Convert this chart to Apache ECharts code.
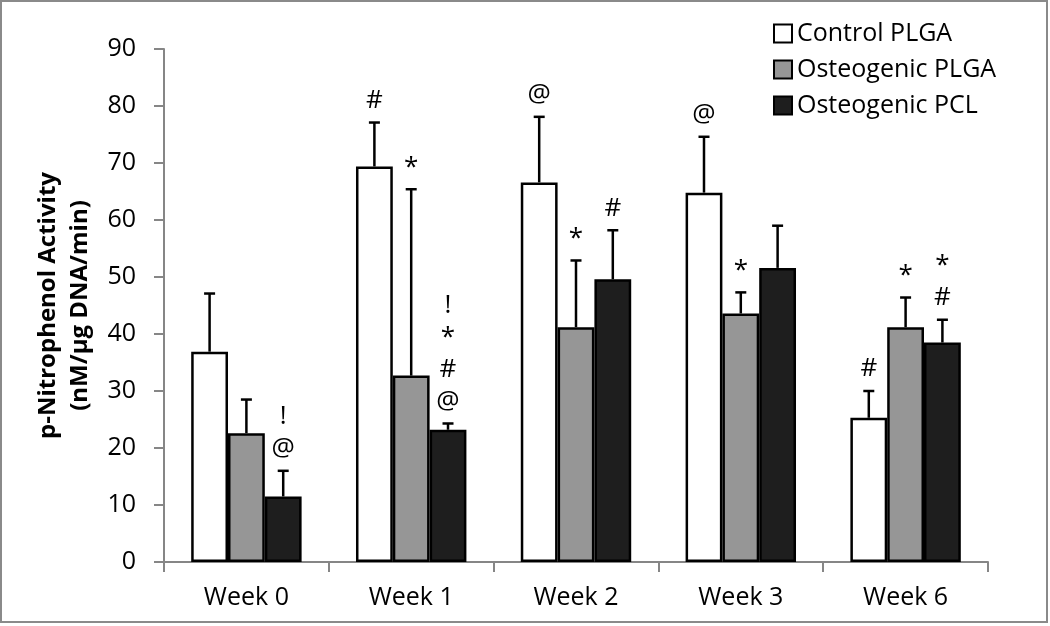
<!DOCTYPE html>
<html>
<head>
<meta charset="utf-8">
<script src="https://cdn.jsdelivr.net/npm/echarts@6/dist/echarts.min.js"></script>
<style>
  html, body { margin: 0; padding: 0; background: #fff; }
  #main { width: 1050px; height: 626px; }
</style>
</head>
<body>
<div id="main"></div>
<script>
(function () {

    var weeks = ['Week 0', 'Week 1', 'Week 2', 'Week 3', 'Week 6'];
    var seriesNames = ['Control PLGA', 'Osteogenic PLGA', 'Osteogenic PCL'];

    // mean values
    var controlPLGA = [36.9, 69.4, 66.6, 64.8, 25.3];
    var osteoPLGA   = [22.6, 32.7, 41.2, 43.6, 41.2];
    var osteoPCL    = [11.5, 23.2, 49.6, 51.6, 38.5];

    // top of each error bar
    var controlPLGAErr = [47.1, 77.1, 78.1, 74.6, 30.0];
    var osteoPLGAErr   = [28.5, 65.4, 52.9, 47.3, 46.4];
    var osteoPCLErr    = [16.0, 24.3, 58.2, 59.0, 42.5];

    // significance marks above the bars (stacked top to bottom)
    var controlPLGAMarks = ['', '#', '@', '@', '#'];
    var osteoPLGAMarks   = ['', '*', '*', '*', '*'];
    var osteoPCLMarks    = ['!\n@', '!\n*\n#\n@', '#', '', '*\n#'];

    var means = [controlPLGA, osteoPLGA, osteoPCL];
    var errs = [controlPLGAErr, osteoPLGAErr, osteoPCLErr];
    var marks = [controlPLGAMarks, osteoPLGAMarks, osteoPCLMarks];
    var fills = ['#ffffff', '#969696', '#1e1e1e'];

    var font = '"Open Sans", "DejaVu Sans", sans-serif';
    var catGap = 0.33;

    var series = [];
    seriesNames.forEach(function (name, i) {
        series.push({
            name: name,
            type: 'bar',
            barGap: '0%',
            barCategoryGap: '33%',
            data: means[i],
            itemStyle: { color: fills[i], borderColor: '#000', borderWidth: 2.5 }
        });
    });

    // error bars and marks, drawn through the axis scales
    seriesNames.forEach(function (name, i) {
        var data = means[i].map(function (v, k) {
            return [k, v, errs[i][k]];
        });
        series.push({
            type: 'custom',
            silent: true,
            z: 5,
            data: data,
            encode: { x: 0, y: [1, 2] },
            renderItem: function (params, api) {
                var band = api.size([1, 0])[0];
                var barW = band * (1 - catGap) / 3;
                var offset = (i - 1) * barW;
                var base = api.coord([api.value(0), api.value(1)]);
                var top = api.coord([api.value(0), api.value(2)]);
                var x = base[0] + offset;
                var cap = 5.5;
                var children = [
                    { type: 'line', shape: { x1: x, y1: base[1], x2: x, y2: top[1] },
                      style: { stroke: '#000', lineWidth: 2.5 } },
                    { type: 'line', shape: { x1: x - cap, y1: top[1], x2: x + cap, y2: top[1] },
                      style: { stroke: '#000', lineWidth: 2.5 } }
                ];
                var txt = marks[i][params.dataIndex];
                if (txt) {
                    children.push({
                        type: 'text',
                        style: {
                            x: x, y: top[1] - 6,
                            text: txt,
                            align: 'center',
                            verticalAlign: 'bottom',
                            font: '26px ' + font,
                            lineHeight: 32,
                            fill: '#000'
                        }
                    });
                }
                return { type: 'group', children: children };
            }
        });
    });

    var option = {
        backgroundColor: '#fff',
        animation: false,
        graphic: [{
            type: 'rect',
            shape: { x: 1, y: 1, width: 1046, height: 621 },
            style: { fill: 'none', stroke: '#8a8a8a', lineWidth: 2 }
        }],
        legend: {
            orient: 'vertical',
            left: 768,
            top: 16,
            itemWidth: 18,
            itemHeight: 18,
            itemGap: 11,
            icon: 'rect',
            data: seriesNames,
            textStyle: { fontFamily: font, fontSize: 25, color: '#000' }
        },
        grid: { left: 164, right: 62, top: 49, bottom: 64 },
        xAxis: {
            type: 'category',
            data: weeks,
            axisLine: { lineStyle: { color: '#868686', width: 2 } },
            axisTick: { show: true, length: 10, lineStyle: { color: '#868686', width: 2 } },
            axisLabel: { fontFamily: font, fontSize: 25, color: '#000', margin: 23 }
        },
        yAxis: {
            type: 'value',
            min: 0,
            max: 90,
            interval: 10,
            name: 'p-Nitrophenol Activity\n(nM/µg DNA/min)',
            nameLocation: 'middle',
            nameGap: 68,
            nameTextStyle: { fontFamily: font, fontSize: 24, fontWeight: 'bold', color: '#000', lineHeight: 32 },
            splitLine: { show: false },
            axisLine: { show: true, lineStyle: { color: '#868686', width: 2 } },
            axisTick: { show: true, length: 10, lineStyle: { color: '#868686', width: 2 } },
            axisLabel: { fontFamily: font, fontSize: 25, color: '#000', margin: 28 }
        },
        series: series
    };

    var chart = echarts.init(document.getElementById('main'));
    chart.setOption(option);
    window.addEventListener('resize', function () { chart.resize(); });

})();
</script>
</body>
</html>
